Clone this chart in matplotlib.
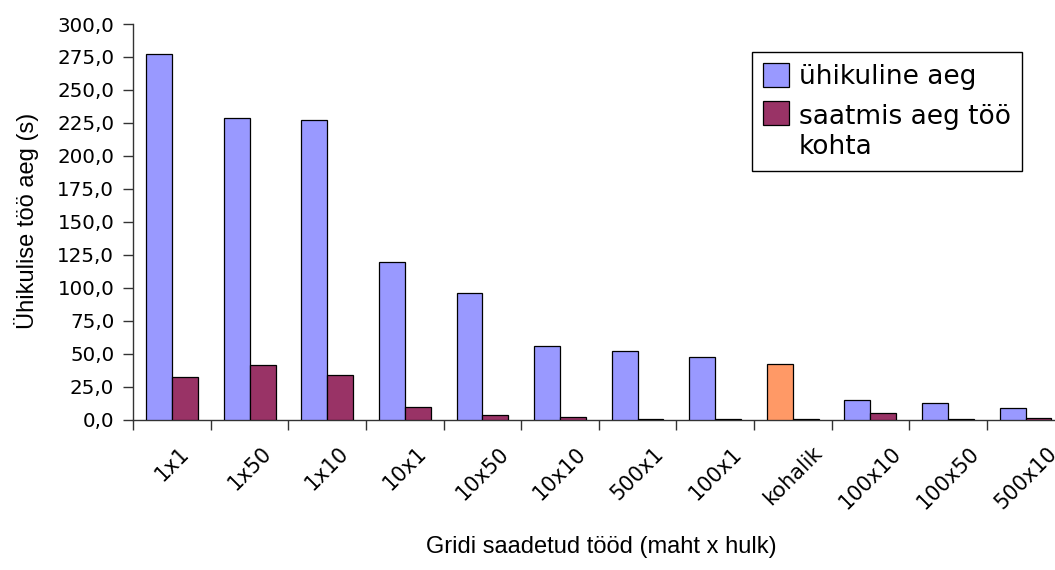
import matplotlib
matplotlib.use("Agg")
import matplotlib.pyplot as plt
import numpy as np
from matplotlib.ticker import FixedLocator, FuncFormatter
from matplotlib.legend_handler import HandlerPatch
from matplotlib.patches import Rectangle

categories = ['1x1', '1x50', '1x10', '10x1', '10x50', '10x10', '500x1',
              '100x1', 'kohalik', '100x10', '100x50', '500x10']
unit_time = [277.0, 229.0, 227.0, 119.3, 96.2, 55.5, 52.2, 47.2, 41.9, 14.6, 12.3, 8.5]
send_time = [32.0, 41.6, 33.5, 9.3, 3.4, 1.9, 0.3, 0.3, 0.2, 4.7, 0.2, 1.0]
series_names = ['ühikuline aeg', 'saatmis aeg töö\nkohta']
y_ticks = [0, 25, 50, 75, 100, 125, 150, 175, 200, 225, 250, 275, 300]

BLUE = '#9999FF'
MAROON = '#993366'
ORANGE = '#FF9966'

W, H = 1055, 570
fig = plt.figure(figsize=(W / 100, H / 100), dpi=100)
ax = fig.add_axes([133.3 / W, (H - 419.5) / H, 931 / W, 395.5 / H])

x = np.arange(len(categories))
bw = 1 / 3
blue_colors = [ORANGE if c == 'kohalik' else BLUE for c in categories]
b1 = ax.bar(x - bw / 2, unit_time, bw, color=blue_colors, edgecolor='black',
            linewidth=0.9, label=series_names[0], zorder=3)
b2 = ax.bar(x + bw / 2, send_time, bw, color=MAROON, edgecolor='black',
            linewidth=0.9, label=series_names[1], zorder=3)

ax.set_xlim(-0.5, len(categories) - 0.5)
ax.set_ylim(0, 300)

ax.spines['top'].set_visible(False)
ax.spines['right'].set_visible(False)
for s in ['left', 'bottom']:
    ax.spines[s].set_color('#333333')
    ax.spines[s].set_linewidth(1.0)

ax.set_yticks(y_ticks)
ax.yaxis.set_major_formatter(FuncFormatter(lambda v, p: f"{v:.1f}".replace('.', ',')))
ax.tick_params(axis='y', direction='out', length=7.2, width=1, color='#333333',
               pad=6.5, labelsize=14.3)

ax.set_xticks(x)
ax.set_xticklabels(categories, rotation=45, ha='center', va='top', fontsize=15)
ax.xaxis.set_minor_locator(FixedLocator(np.arange(-0.5, len(categories), 1)))
ax.tick_params(axis='x', which='major', length=0, pad=17)
ax.tick_params(axis='x', which='minor', length=7.2, width=1, color='#333333')

fig.text(601 / W, 1 - 547 / H, 'Gridi saadetud tööd (maht x hulk)',
         ha='center', va='center', fontsize=17, family='Liberation Sans')
fig.text(27 / W, 1 - 221 / H, 'Ühikulise töö aeg (s)', rotation=90,
         ha='center', va='center', fontsize=17, family='Liberation Sans')


class ShiftedPatch(HandlerPatch):
    def __init__(self, dy, **kw):
        super().__init__(**kw)
        self.dy = dy

    def create_artists(self, legend, orig_handle, xdescent, ydescent,
                       width, height, fontsize, trans):
        r = Rectangle((-xdescent, -ydescent + self.dy), width, height,
                      facecolor=orig_handle.get_facecolor(),
                      edgecolor='black', linewidth=0.9, transform=trans)
        return [r]


h1 = Rectangle((0, 0), 1, 1, facecolor=BLUE)
h2 = Rectangle((0, 0), 1, 1, facecolor=MAROON)
leg = ax.legend(handles=[h1, h2], labels=series_names,
                handler_map={h1: ShiftedPatch(0.0), h2: ShiftedPatch(14.5)},
                loc='upper left', bbox_to_anchor=(752 / W, 1 - 52 / H),
                bbox_transform=fig.transFigure, borderaxespad=0,
                fontsize=19, handlelength=1.0, handleheight=1.0,
                handletextpad=0.35, borderpad=0.42, labelspacing=0.53,
                fancybox=False, framealpha=1, edgecolor='black')
leg.get_frame().set_linewidth(1.0)

fig.savefig('out.png', dpi=100)
